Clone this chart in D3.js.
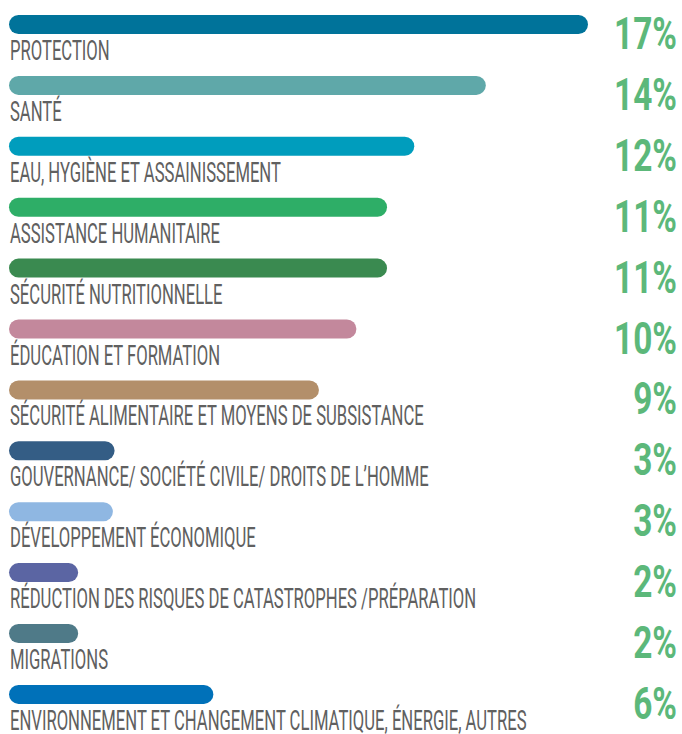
<!DOCTYPE html>
<html>
<head>
<meta charset="utf-8">
<script src="https://cdn.jsdelivr.net/npm/d3@7"></script>
<style>
	html, body { margin: 0; padding: 0; background: #fff; }
	svg { display: block; }
</style>
</head>
<body>
<div id="chart"></div>
<script>
// sectors, in drawing order
const sectors = [
	'PROTECTION',
	'SANTÉ',
	'EAU, HYGIÈNE ET ASSAINISSEMENT',
	'ASSISTANCE HUMANITAIRE',
	'SÉCURITÉ NUTRITIONNELLE',
	'ÉDUCATION ET FORMATION',
	'SÉCURITÉ ALIMENTAIRE ET MOYENS DE SUBSISTANCE',
	'GOUVERNANCE/ SOCIÉTÉ CIVILE/ DROITS DE L\u2019HOMME',
	'DÉVELOPPEMENT ÉCONOMIQUE',
	'RÉDUCTION DES RISQUES DE CATASTROPHES /PRÉPARATION',
	'MIGRATIONS',
	'ENVIRONNEMENT ET CHANGEMENT CLIMATIQUE, ÉNERGIE, AUTRES'
];

// share of funding, %
const shares = [17.0, 14.0, 11.9, 11.1, 11.1, 10.2, 9.1, 3.1, 3.05, 2.03, 2.03, 6.0];

const colors = [
	'#00739a', '#5fa8a9', '#009dbd', '#2eae67', '#3a8a50', '#c3889c',
	'#b38f6a', '#345d85', '#8fb7e2', '#5b65a3', '#4f7a88', '#0071b9'
];

const width = 682;
const height = 734;
const left = 9;
const barH = 19;

const svg = d3.select('#chart').append('svg')
	.attr('width', width)
	.attr('height', height);

const data = sectors.map((s, i) => ({ name: s, value: shares[i], color: colors[i] }));

const y = d3.scaleBand()
	.domain(sectors)
	.range([15, 15 + 60.9 * sectors.length])
	.paddingInner(0)
	.paddingOuter(0);

const x = d3.scaleLinear()
	.domain([0, 17])
	.range([0, 579]);

const rows = svg.selectAll('g.row')
	.data(data)
	.join('g')
	.attr('class', 'row')
	.attr('transform', d => `translate(0,${y(d.name)})`);

rows.append('rect')
	.attr('x', left)
	.attr('y', 0)
	.attr('width', d => x(d.value))
	.attr('height', barH)
	.attr('rx', barH / 2)
	.attr('fill', d => d.color);

const labels = rows.append('text')
	.attr('font-family', 'Roboto, "Liberation Sans", sans-serif')
	.attr('font-size', 28)
	.attr('fill', '#606060')
	.text(d => d.name);

const pcts = rows.append('text')
	.attr('font-family', 'Roboto, "Liberation Sans", sans-serif')
	.attr('font-weight', 'bold')
	.attr('font-size', 44)
	.attr('fill', '#5cb87a')
	.attr('text-anchor', 'end')
	.text(d => Math.round(d.value) + '%');

// squeeze the text horizontally to get the condensed look
const longest = labels.filter((d, i) => i === sectors.length - 1).node();
const k1 = 517 / longest.getComputedTextLength();
labels.attr('transform', `translate(10,45) scale(${k1},1)`);

const k2 = 63 / pcts.filter((d, i) => i === 0).node().getComputedTextLength();
pcts.attr('transform', `translate(677,34) scale(${k2},1)`);
</script>
</body>
</html>
